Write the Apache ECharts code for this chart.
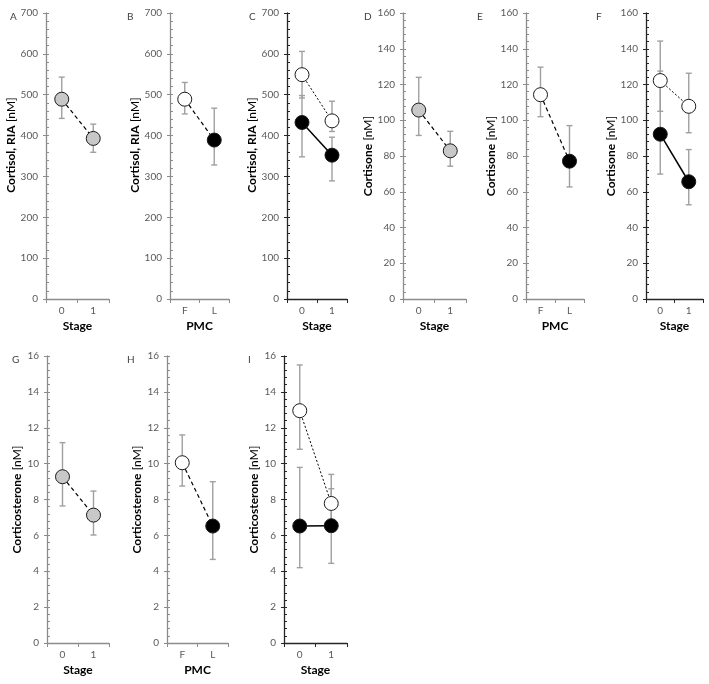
<!DOCTYPE html>
<html><head><meta charset="utf-8">
<script src="https://cdn.jsdelivr.net/npm/echarts@6/dist/echarts.min.js"></script>
<style>html,body{margin:0;padding:0;background:#fff}#c{width:709px;height:684px}</style>
</head><body><div id="c"></div>
<script>
// ---------- categories ----------
const stageCats = ['0', '1'];
const pmcCats = ['F', 'L'];

// ---------- y-axis scales [max, interval] ----------
const cortisolScale = [700, 100];
const cortisoneScale = [160, 20];
const corticosteroneScale = [16, 2];

// ---------- data: mean, lower and upper error bounds ----------
// A: Cortisol RIA by stage
const A_mean = [489, 393];
const A_lo = [442, 359];
const A_hi = [543, 428];
// B: Cortisol RIA by PMC
const B_mean = [489, 389];
const B_lo = [453, 328];
const B_hi = [530, 467];
// C: Cortisol RIA by stage, two groups
const C_white_mean = [549, 436];
const C_white_lo = [492, 410];
const C_white_hi = [606, 484];
const C_black_mean = [432, 352];
const C_black_lo = [348, 289];
const C_black_hi = [498, 396];
// D: Cortisone by stage
const D_mean = [105.7, 82.9];
const D_lo = [91.5, 74.3];
const D_hi = [124, 93.8];
// E: Cortisone by PMC
const E_mean = [114.3, 77.1];
const E_lo = [102, 62.7];
const E_hi = [129.7, 97];
// F: Cortisone by stage, two groups
const F_white_mean = [122.2, 107.8];
const F_white_lo = [105, 93];
const F_white_hi = [144.3, 126.3];
const F_black_mean = [92.2, 65.6];
const F_black_lo = [69.9, 52.7];
const F_black_hi = [127.5, 83.6];
// G: Corticosterone by stage
const G_mean = [9.27, 7.13];
const G_lo = [7.64, 6.02];
const G_hi = [11.17, 8.47];
// H: Corticosterone by PMC
const H_mean = [10.05, 6.52];
const H_lo = [8.75, 4.66];
const H_hi = [11.6, 8.99];
// I: Corticosterone by stage, two groups
const I_white_mean = [12.95, 7.78];
const I_white_lo = [10.8, 6.2];
const I_white_hi = [15.5, 9.4];
const I_black_mean = [6.52, 6.54];
const I_black_lo = [4.2, 4.44];
const I_black_hi = [9.79, 8.6];

// ---------- styles ----------
const FONT = 'Lato, "Open Sans", sans-serif';
const GREY_FILL = '#c8c8c8';
const ERR_COL = '#a0a0a0';
const LIGHT_AXIS = '#8c8c8c';
const DARK_AXIS = '#262626';
const LABEL_COL = '#595959';

const panels = [
  {letter:'A', lx:5, ly:7, left:46, top:13, width:63, height:286, cats:stageCats, xName:'Stage', yName:'Cortisol, RIA', scale:cortisolScale, gap:26, shift:22, axisCol:LIGHT_AXIS,
    groups:[{mean:A_mean, lo:A_lo, hi:A_hi, fills:[GREY_FILL, GREY_FILL], line:'dash'}]},
  {letter:'B', lx:122, ly:7, left:170, top:13, width:59, height:286, cats:pmcCats, xName:'PMC', yName:'Cortisol, RIA', scale:cortisolScale, gap:26, shift:22, axisCol:LIGHT_AXIS,
    groups:[{mean:B_mean, lo:B_lo, hi:B_hi, fills:['#ffffff', '#000000'], line:'dash'}]},
  {letter:'C', lx:244, ly:7, left:287, top:13, width:60, height:286, cats:stageCats, xName:'Stage', yName:'Cortisol, RIA', scale:cortisolScale, gap:24, shift:22, axisCol:DARK_AXIS,
    groups:[{mean:C_white_mean, lo:C_white_lo, hi:C_white_hi, fills:['#ffffff', '#ffffff'], line:'dot'},
            {mean:C_black_mean, lo:C_black_lo, hi:C_black_hi, fills:['#000000', '#000000'], line:'solid'}]},
  {letter:'D', lx:359, ly:7, left:403, top:13, width:63, height:286, cats:stageCats, xName:'Stage', yName:'Cortisone', scale:cortisoneScale, gap:29, shift:0, axisCol:LIGHT_AXIS,
    groups:[{mean:D_mean, lo:D_lo, hi:D_hi, fills:[GREY_FILL, GREY_FILL], line:'dash'}]},
  {letter:'E', lx:472, ly:7, left:526, top:13, width:58, height:286, cats:pmcCats, xName:'PMC', yName:'Cortisone', scale:cortisoneScale, gap:26, shift:0, axisCol:LIGHT_AXIS,
    groups:[{mean:E_mean, lo:E_lo, hi:E_hi, fills:['#ffffff', '#000000'], line:'dash'}]},
  {letter:'F', lx:591, ly:7, left:646, top:13, width:57, height:286, cats:stageCats, xName:'Stage', yName:'Cortisone', scale:cortisoneScale, gap:28, shift:0, axisCol:DARK_AXIS,
    groups:[{mean:F_white_mean, lo:F_white_lo, hi:F_white_hi, fills:['#ffffff', '#ffffff'], line:'dot'},
            {mean:F_black_mean, lo:F_black_lo, hi:F_black_hi, fills:['#000000', '#000000'], line:'solid'}]},
  {letter:'G', lx:7, ly:350, left:47, top:356, width:62, height:287, cats:stageCats, xName:'Stage', yName:'Corticosterone', scale:corticosteroneScale, gap:23, shift:0, axisCol:LIGHT_AXIS,
    groups:[{mean:G_mean, lo:G_lo, hi:G_hi, fills:[GREY_FILL, GREY_FILL], line:'dash'}]},
  {letter:'H', lx:122, ly:350, left:167, top:356, width:61, height:287, cats:pmcCats, xName:'PMC', yName:'Corticosterone', scale:corticosteroneScale, gap:23, shift:0, axisCol:LIGHT_AXIS,
    groups:[{mean:H_mean, lo:H_lo, hi:H_hi, fills:['#ffffff', '#000000'], line:'dash'}]},
  {letter:'I', lx:243, ly:350, left:284, top:356, width:63, height:287, cats:stageCats, xName:'Stage', yName:'Corticosterone', scale:corticosteroneScale, gap:21, shift:0, axisCol:DARK_AXIS,
    groups:[{mean:I_white_mean, lo:I_white_lo, hi:I_white_hi, fills:['#ffffff', '#ffffff'], line:'dot'},
            {mean:I_black_mean, lo:I_black_lo, hi:I_black_hi, fills:['#000000', '#000000'], line:'solid'}]}
];

const lineTypes = {
  dash: {type:[4, 3], width:1.2, color:'#000'},
  dot: {type:[2, 2], width:1, color:'#000'},
  solid: {type:'solid', width:1.5, color:'#000'}
};

function renderErr(params, api) {
  const x = api.value(0);
  const pLo = api.coord([x, api.value(1)]);
  const pHi = api.coord([x, api.value(2)]);
  const cap = 3;
  const st = {stroke: ERR_COL, lineWidth: 1.4};
  return {type:'group', children:[
    {type:'line', shape:{x1:pLo[0], y1:pLo[1], x2:pHi[0], y2:pHi[1]}, style:st},
    {type:'line', shape:{x1:pLo[0]-cap, y1:pLo[1], x2:pLo[0]+cap, y2:pLo[1]}, style:st},
    {type:'line', shape:{x1:pHi[0]-cap, y1:pHi[1], x2:pHi[0]+cap, y2:pHi[1]}, style:st}
  ]};
}

const grid = [], xAxis = [], yAxis = [], series = [], title = [];
panels.forEach((p, i) => {
  grid.push({left:p.left, top:p.top, width:p.width, height:p.height, containLabel:false});
  title.push({text:p.letter, left:p.lx, top:p.ly, textStyle:{fontSize:10, fontWeight:'normal', color:'#404040', fontFamily:FONT}});
  xAxis.push({
    gridIndex:i, type:'category', data:p.cats, boundaryGap:true,
    axisLine:{show:true, lineStyle:{color:p.axisCol, width:1.3}},
    axisTick:{show:true, length:4, lineStyle:{color:p.axisCol}},
    axisLabel:{fontSize:10, color:LABEL_COL, margin:7, fontFamily:FONT},
    splitLine:{show:false},
    name:p.xName, nameLocation:'middle', nameGap:21,
    nameTextStyle:{fontWeight:'bold', fontSize:12, color:'#000', fontFamily:FONT}
  });
  yAxis.push({
    gridIndex:i, type:'value', min:0, max:p.scale[0], interval:p.scale[1], position:'left',
    axisLine:{show:true, lineStyle:{color:p.axisCol, width:1.3}},
    axisTick:{show:true, inside:true, length:3, lineStyle:{color:p.axisCol}},
    minorTick:{show:true, splitNumber:5, length:3, lineStyle:{color:p.axisCol}},
    splitLine:{show:false}, minorSplitLine:{show:false},
    axisLabel:{fontSize:10, color:LABEL_COL, margin:8, fontFamily:FONT},
    name:'{b|' + p.yName + '} {n|[nM]}', nameLocation:'middle', nameRotate:90, nameGap:p.gap,
    nameTextStyle:{padding:[0, 0, 0, p.shift], rich:{
      b:{fontWeight:'bold', fontSize:12, color:'#000', fontFamily:FONT},
      n:{fontSize:12, color:'#000', fontFamily:FONT}}}
  });
  yAxis.push({
    gridIndex:i, type:'value', min:0, max:p.scale[0], interval:p.scale[1], position:'left',
    axisLine:{show:false}, axisTick:{show:true, inside:false, length:3, lineStyle:{color:p.axisCol}},
    axisLabel:{show:false}, splitLine:{show:false}
  });
  p.groups.forEach(g => {
    series.push({
      type:'custom', xAxisIndex:i, yAxisIndex:2*i, renderItem:renderErr, z:1, silent:true,
      encode:{x:0, y:[1, 2]},
      data:g.mean.map((m, k) => [k, g.lo[k], g.hi[k]])
    });
  });
  p.groups.forEach(g => {
    series.push({
      type:'line', xAxisIndex:i, yAxisIndex:2*i, z:3, symbol:'circle', symbolSize:14,
      lineStyle:lineTypes[g.line],
      data:g.mean.map((m, k) => ({value:m, itemStyle:{color:g.fills[k], borderColor:'#1a1a1a', borderWidth:1}})),
      animation:false
    });
  });
});

const chart = echarts.init(document.getElementById('c'), null, {renderer:'canvas'});
chart.setOption({animation:false, title, grid, xAxis, yAxis, series});
</script></body></html>
